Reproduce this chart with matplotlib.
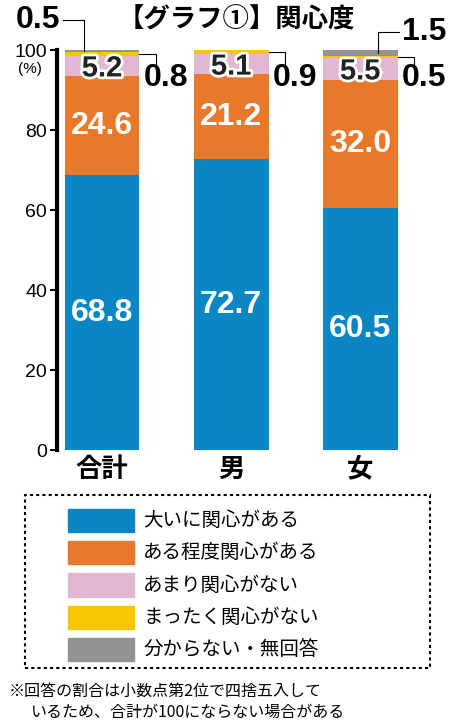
import matplotlib.pyplot as plt
import matplotlib.patheffects as pe
from matplotlib.patches import Rectangle
import numpy as np

plt.rcParams['font.family'] = ['Noto Sans CJK JP', 'DejaVu Sans']
NUMFONT = "Liberation Sans"

categories = ["合計", "男", "女"]
series_names = ["大いに関心がある", "ある程度関心がある", "あまり関心がない",
                "まったく関心がない", "分からない・無回答"]
very = [68.8, 72.7, 60.5]
some = [24.6, 21.2, 32.0]
little = [5.2, 5.1, 5.5]
none_ = [0.8, 0.9, 0.5]
unknown = [0.5, 0.0, 1.5]
colors = ["#0a86c4", "#e8782a", "#e2b7d2", "#f7c600", "#939393"]

fig = plt.figure(figsize=(4.55, 7.25), dpi=100)
ax = fig.add_axes([0.125, 0.379, 0.82, 0.552])
x = np.arange(len(categories))
w = 0.58
bottom = np.zeros(3)
for vals, c in zip([very, some, little, none_, unknown], colors):
    ax.bar(x, vals, w, bottom=bottom, color=c, linewidth=0)
    bottom += np.array(vals)

ax.set_xlim(-0.35, 2.54)
ax.set_ylim(0, 100)
ax.set_yticks(range(0, 101, 20))
ax.set_yticklabels(["0", "20", "40", "60", "80", "100"], fontsize=14, family=NUMFONT)
ax.text(-0.47, 97, "(%)", fontsize=11, ha="right", va="top", family=NUMFONT)
for s in ["top", "right", "bottom"]:
    ax.spines[s].set_visible(False)
ax.spines["left"].set_linewidth(3)
ax.tick_params(axis="y", length=5, width=1.5, pad=2)
ax.set_xticks(x)
ax.set_xticklabels(categories, fontsize=19, fontweight="bold")
ax.tick_params(axis="x", length=0, pad=4)

for i in range(3):
    ax.text(x[i], very[i] / 2, f"{very[i]:.1f}", color="white", fontsize=23,
            fontweight="bold", ha="center", va="center", family=NUMFONT)
    ax.text(x[i], very[i] + some[i] / 2, f"{some[i]:.1f}", color="white", fontsize=23,
            fontweight="bold", ha="center", va="center", family=NUMFONT)
    ax.text(x[i], very[i] + some[i] + little[i] / 2 - 0.6, f"{little[i]:.1f}",
            color="#222222", fontsize=21, fontweight="bold", ha="center", va="center",
            family=NUMFONT,
            path_effects=[pe.withStroke(linewidth=4, foreground="white")])
    yv = very[i] + some[i] + little[i] + none_[i] / 2
    xr = x[i] + w / 2
    ax.plot([xr, xr + 0.13, xr + 0.13], [yv, yv, yv - 3], color="black", lw=0.8,
            clip_on=False)
    ax.text(xr + 0.03, 93.0, f"{none_[i]:.1f}", fontsize=23, fontweight="bold",
            ha="left", va="center", family=NUMFONT)

yg = very[0] + some[0] + little[0] + none_[0] + unknown[0] / 2
ax.plot([x[0] - 0.14, x[0] - 0.14, x[0] - 0.3], [yg, 107.5, 107.5], color="black",
        lw=0.8, clip_on=False)
ax.text(x[0] - 0.32, 107.5, "0.5", fontsize=23, fontweight="bold", ha="right",
        va="center", family=NUMFONT)
yg = 100 - unknown[2] / 2
ax.plot([x[2] + 0.14, x[2] + 0.14, x[2] + 0.3], [yg, 104.5, 104.5], color="black",
        lw=0.8, clip_on=False)
ax.text(x[2] + 0.32, 104.5, "1.5", fontsize=23, fontweight="bold", ha="left",
        va="center", family=NUMFONT)

fig.text(0.52, 0.972, "【グラフ①】関心度", fontsize=19, fontweight="bold",
         ha="center", va="center")

fig.patches.append(Rectangle((0.055, 0.079), 0.89, 0.238, transform=fig.transFigure,
                             fill=False, linestyle=(0, (1.5, 1.5)), linewidth=1.5,
                             edgecolor="black"))
for k, (name, c) in enumerate(zip(series_names, colors)):
    yc = 0.282 - k * 0.0445
    fig.patches.append(Rectangle((0.15, yc - 0.016), 0.145, 0.032,
                                 transform=fig.transFigure, color=c))
    fig.text(0.315, yc, name, fontsize=14, ha="left", va="center")

fig.text(0.02, 0.047, "※回答の割合は小数点第2位で四捨五入して", fontsize=11.5,
         ha="left", va="center")
fig.text(0.068, 0.017, "いるため、合計が100にならない場合がある", fontsize=11.5,
         ha="left", va="center")

fig.savefig("out.png", dpi=100)
